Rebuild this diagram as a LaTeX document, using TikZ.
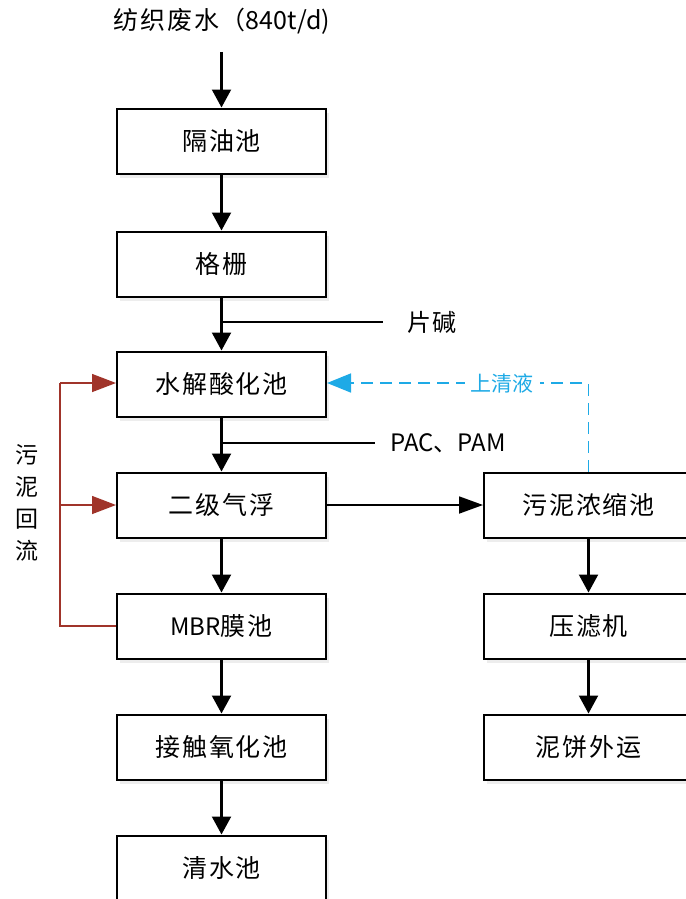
\documentclass[tikz,border=0pt]{standalone}
\usepackage{fontspec}
\setmainfont{Noto Sans CJK SC}
\newfontfamily\cj[LetterSpace=7]{Noto Sans CJK SC}
\usetikzlibrary{arrows.meta}
\definecolor{rback}{RGB}{160,52,42}
\definecolor{bclear}{RGB}{30,170,230}
\tikzset{
  box/.style={draw=black, line width=2pt, fill=white, minimum width=209pt, minimum height=65pt, inner sep=0pt, font=\cj\fontsize{25}{28}\selectfont},
  shade/.style={fill=black!7, draw=none, minimum width=209pt, minimum height=65pt},
  flow/.style={line width=2.2pt, -{Triangle[length=18pt,width=19pt]}},
  hflow/.style={line width=1.8pt, -{Triangle[length=24pt,width=17pt]}},
  feed/.style={line width=1.6pt},
  red/.style={draw=rback, line width=1.4pt},
  redarrow/.style={draw=rback, line width=1.4pt, -{Triangle[length=24pt,width=18pt,fill=rback]}},
  bluedash/.style={draw=bclear, line width=1.6pt, dash pattern=on 12pt off 7pt, -{Triangle[length=24pt,width=19pt,fill=bclear]}},
  lbl/.style={font=\fontsize{24}{28}\selectfont, inner sep=0pt}
}
\begin{document}
\begin{tikzpicture}[x=1pt,y=-1pt]
\useasboundingbox (0,0) rectangle (685,899);
% shadows
\foreach \cx/\cy in {221.5/141, 221.5/264, 221.5/384, 221.5/505, 221.5/626, 221.5/747, 221.5/868, 588.5/505, 588.5/626, 588.5/747}
  \node[shade] at (\cx+3,\cy+4) {};
% boxes
\node[box] (b1) at (221.5,141) {隔油池};
\node[box] (b2) at (221.5,264) {格栅};
\node[box] (b3) at (221.5,384) {水解酸化池};
\node[box] (b4) at (221.5,505) {二级气浮};
\node[box] (b5) at (221.5,626) {{\normalfont\fontsize{24}{28}\selectfont MBR}膜池};
\node[box] (b6) at (221.5,747) {接触氧化池};
\node[box] (b7) at (221.5,868) {清水池};
\node[box] (r1) at (588.5,505) {污泥浓缩池};
\node[box] (r2) at (588.5,626) {压滤机};
\node[box] (r3) at (588.5,747) {泥饼外运};
% title
\node[lbl, font=\fontsize{25}{28}\selectfont] (t) at (222,21) {{\cj 纺织废水（}840t/d)};
\coordinate (ts) at (221.5,52);
\draw[flow] (ts) -- (b1.north);
\draw[flow] (b1) -- (b2);
\draw[flow] (b2) -- (b3);
\draw[flow] (b3) -- (b4);
\draw[flow] (b4) -- (b5);
\draw[flow] (b5) -- (b6);
\draw[flow] (b6) -- (b7);
\draw[hflow] (b4) -- (r1);
\draw[flow] (r1) -- (r2);
\draw[flow] (r2) -- (r3);
% dosing
\node[lbl, anchor=west, font=\cj\fontsize{24}{28}\selectfont] (naoh) at (407,322) {片碱};
\coordinate (j1) at (221.5,322);
\coordinate (e1) at (383,322);
\draw[feed] (j1) -- (e1);
\node[lbl, anchor=west] (pac) at (390,443) {PAC、PAM};
\coordinate (j2) at (221.5,443);
\coordinate (e2) at (375,443);
\draw[feed] (j2) -- (e2);
% supernatant
\coordinate (s1) at (588.5,383);
\draw[bluedash] (r1.north) -- (s1) -- (b3.east |- s1);
\node[lbl, fill=white, text=bclear, inner xsep=6pt, inner ysep=2pt, font=\fontsize{21}{22}\selectfont] (sq) at (502,383) {上清液};
% sludge return
\coordinate (m1) at (60,626);
\coordinate (m2) at (60,383);
\coordinate (m3) at (60,505);
\draw[red] (b5.west) -- (m1) -- (m2);
\draw[redarrow] (m2) -- (b3.west |- m2);
\draw[redarrow] (m3) -- (b4.west);
\node[lbl, align=center, font=\fontsize{23}{32}\selectfont] (hl) at (27,503) {污\\泥\\回\\流};
\end{tikzpicture}
\end{document}
